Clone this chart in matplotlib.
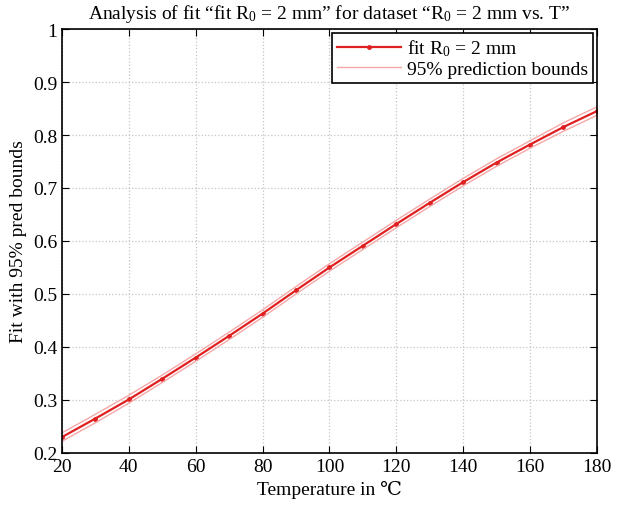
import matplotlib.pyplot as plt
import numpy as np

plt.rcParams['font.family'] = ['Liberation Serif', 'DejaVu Serif']
plt.rcParams['mathtext.fontset'] = 'custom'
plt.rcParams['mathtext.rm'] = 'Liberation Serif'
plt.rcParams['mathtext.it'] = 'Liberation Serif:italic'

# values
temp = [20, 30, 40, 50, 60, 70, 80, 90, 100, 110, 120, 130, 140, 150, 160, 170, 180]
fit = [0.230, 0.265, 0.301, 0.340, 0.380, 0.421, 0.463, 0.507, 0.550, 0.591, 0.632, 0.672,
       0.711, 0.748, 0.782, 0.815, 0.845]
lower = [0.222, 0.257, 0.294, 0.333, 0.373, 0.414, 0.456, 0.500, 0.543, 0.584, 0.625, 0.665,
         0.704, 0.741, 0.775, 0.807, 0.837]
upper = [0.238, 0.273, 0.309, 0.347, 0.387, 0.428, 0.470, 0.514, 0.557, 0.598, 0.639, 0.679,
         0.718, 0.755, 0.789, 0.823, 0.853]

fig = plt.figure(figsize=(6.23, 5.06), dpi=100)
ax = fig.add_axes([0.0995, 0.1028, 0.8585, 0.8379])

ax.plot(temp, fit, color='#e02020', lw=1.6, marker='.', ms=5, label='fit R$_0$ = 2 mm')
ax.plot(temp, lower, color='#f4a8a8', lw=1.0, label='95% prediction bounds')
ax.plot(temp, upper, color='#f4a8a8', lw=1.0)

ax.set_xlim(20, 180)
ax.set_ylim(0.2, 1.0)
ax.set_xticks(np.arange(20, 181, 20))
ax.set_yticks(np.arange(0.2, 1.01, 0.1))
ax.set_yticklabels(['0.2', '0.3', '0.4', '0.5', '0.6', '0.7', '0.8', '0.9', '1'])
ax.grid(True, color='#c4c4c4', linestyle=':', lw=0.9)
ax.tick_params(direction='in', top=True, right=True, labelsize=14, length=5)
for s in ax.spines.values():
    s.set_linewidth(1.2)

ax.set_xlabel('Temperature in \u2103', fontsize=14)
ax.set_ylabel('Fit with 95% pred bounds', fontsize=14)
ax.set_title('Analysis of fit \u201cfit R$_0$ = 2 mm\u201d for dataset \u201cR$_0$ = 2 mm vs. T\u201d',
             fontsize=14, pad=8)

leg = ax.legend(loc='upper right', fontsize=14, fancybox=False, framealpha=1,
                edgecolor='black', borderaxespad=0.2, handlelength=3.3,
                borderpad=0.25, labelspacing=0.1, handletextpad=0.3)
leg.get_frame().set_linewidth(1.2)

fig.savefig('out.png', dpi=100)
